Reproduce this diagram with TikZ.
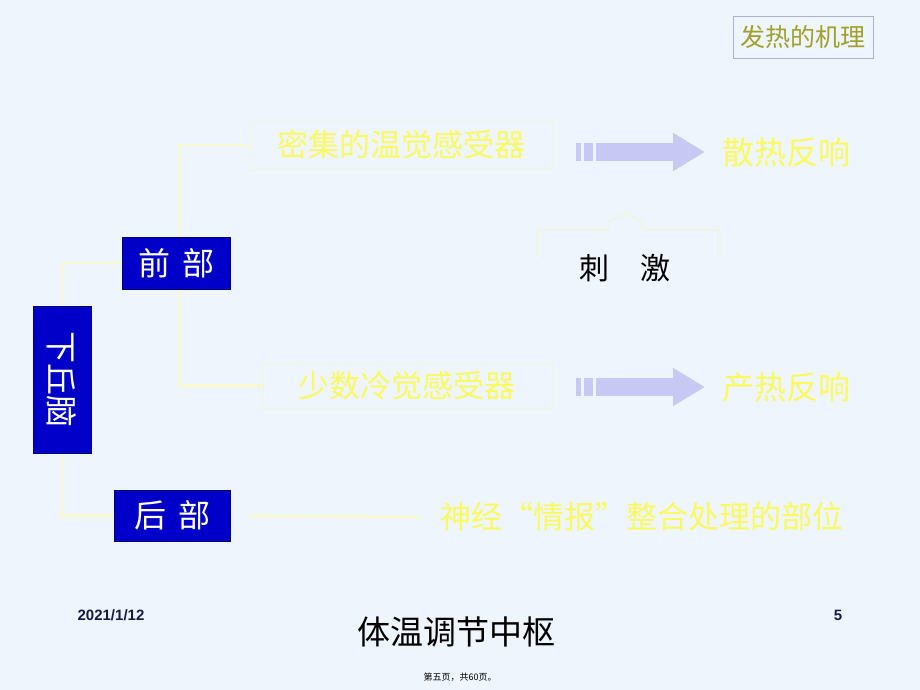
\documentclass[tikz,border=0pt]{standalone}
\usepackage{fontspec}
\setmainfont{Liberation Sans}
\newfontfamily\cjk{Noto Sans CJK SC}
\usetikzlibrary{arrows.meta,backgrounds}
\definecolor{slidebg}{RGB}{239,245,252}
\definecolor{deepblue}{RGB}{0,0,200}
\definecolor{paleyel}{RGB}{250,250,95}
\definecolor{linkyel}{RGB}{250,250,205}
\definecolor{faintbox}{RGB}{240,246,222}
\definecolor{lavender}{RGB}{200,200,245}
\definecolor{olivetxt}{RGB}{160,160,45}
\definecolor{titleframe}{RGB}{170,180,205}
\definecolor{datenavy}{RGB}{25,25,70}
\tikzset{
  partbox/.style={draw=deepblue!60!black, fill=deepblue, text=white, inner sep=0pt,
    font=\cjk\fontsize{32}{32}\selectfont},
  recbox/.style={draw=faintbox, line width=1pt, text=paleyel, inner sep=0pt,
    font=\cjk\fontsize{31}{31}\selectfont},
  reaction/.style={text=paleyel, inner sep=0pt, font=\cjk\fontsize{32}{32}\selectfont},
  link/.style={draw=linkyel, line width=2.5pt},
  bigarrow/.style={draw=lavender, line width=18pt, -{Triangle[length=32pt,width=36pt]}}
}
\begin{document}
\begin{tikzpicture}[x=1pt,y=-1pt]
\useasboundingbox (0,0) rectangle (920,690);
% title tag
\node[draw=titleframe, text=olivetxt, minimum width=140pt, minimum height=42pt, inner sep=0pt,
  font=\cjk\fontsize{25}{25}\selectfont] (tag) at (803,37) {发热的机理};
% hypothalamus parts
\node[partbox, minimum width=58pt, minimum height=147pt] (hypo) at (62,379.5) {\rotatebox{-90}{下丘脑}};
\node[partbox, minimum width=108pt, minimum height=52pt] (front) at (176,263) {前\hspace{12pt}部};
\node[partbox, minimum width=116pt, minimum height=51pt] (back) at (172,515.5) {后\hspace{12pt}部};
% receptors and responses
\node[recbox, minimum width=302pt, minimum height=46pt] (warm) at (401,145) {密集的温觉感受器};
\node[recbox, minimum width=290pt, minimum height=45pt] (cold) at (407,385.5) {少数冷觉感受器};
\node[reaction, anchor=west] (lose) at (722,152) {散热反响};
\node[reaction, anchor=west] (gain) at (722,387) {产热反响};
\node[reaction, anchor=west, font=\cjk\fontsize{31}{31}\selectfont] (info) at (440,517) {神经“情报”整合处理的部位};
\node[text=black, inner sep=0pt, font=\cjk\fontsize{30}{30}\selectfont] (stim) at (625,268) {刺\hspace{31pt}激};
\begin{scope}[on background layer]
\fill[slidebg] (0,0) rectangle (920,690);
% faint outline above stimulus
\draw[faintbox, line width=1.5pt] (537,257) -- (537,230) -- (608,230) -- (608,222) -- (625,213)
  -- (642,222) -- (642,230) -- (720,230) -- (720,257);
% tree links
\draw[link] (hypo.north) |- (front.west);
\draw[link] (hypo.south) |- (back.west);
\draw[link] ([xshift=3pt]front.north) |- (warm.west);
\draw[link] ([xshift=3pt]front.south) |- (cold.west);
\draw[link, shorten <=20pt, shorten >=20pt] (back.east) -- (info.west);
\end{scope}
% arrows
\foreach \rec/\res in {warm/lose, cold/gain} {
  \fill[lavender] ([xshift=23pt,yshift=-9pt]\rec.east |- \res.west) rectangle ++(5pt,18pt);
  \fill[lavender] ([xshift=31pt,yshift=-9pt]\rec.east |- \res.west) rectangle ++(9pt,18pt);
  \draw[bigarrow] ([xshift=43pt]\rec.east |- \res.west) -- ([xshift=-17pt]\res.west);
}
% footer
\node[text=datenavy, font=\bfseries\fontsize{15}{15}\selectfont] (date) at (111,615) {2021/1/12};
\node[font=\cjk\fontsize{33}{33}\selectfont] (caption) at (456,632) {体温调节中枢};
\node[text=datenavy, font=\bfseries\fontsize{15}{15}\selectfont] (pageno) at (838,615) {5};
\node[font=\cjk\fontsize{9}{9}\selectfont] (pageinfo) at (460,677) {第五页，共60页。};
\end{tikzpicture}
\end{document}
